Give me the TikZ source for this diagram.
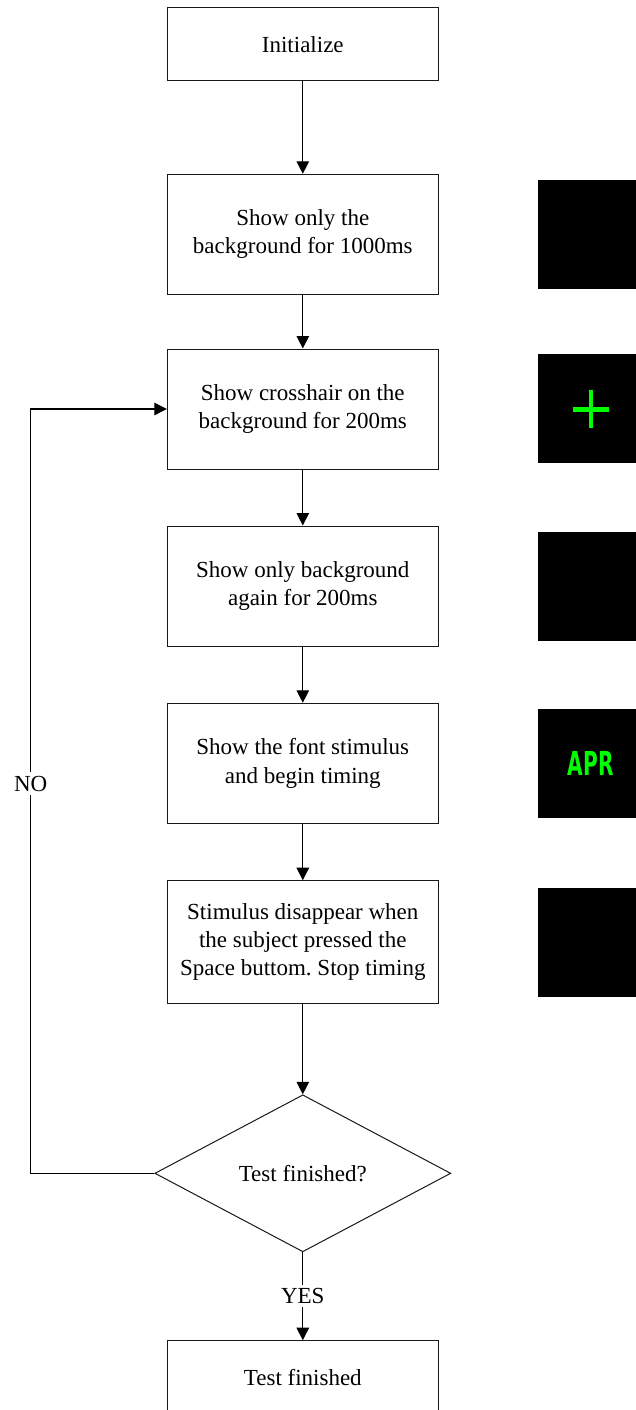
\documentclass[tikz,border=0pt]{standalone}
\usepackage{fontspec}
\setmainfont{Liberation Serif}
\newfontfamily\aprfont{DejaVu Sans}
\usepackage{graphicx}
\usetikzlibrary{shapes.geometric,arrows.meta}
\definecolor{scrgreen}{RGB}{0,255,0}
\frenchspacing
\tikzset{
 stepbox/.style={draw=black!90, line width=1pt, minimum width=271pt, align=center, font=\fontsize{23}{28.3}\selectfont, inner sep=0pt},
 arr/.style={draw=black, line width=1.1pt, -{Triangle[length=12.5pt,width=12.5pt]}},
 screen/.style={fill=black, minimum width=109pt, minimum height=109pt, inner sep=0pt},
 lbl/.style={fill=white, font=\fontsize{23}{28.3}\selectfont, inner sep=0.35em}
}
\begin{document}
\begin{tikzpicture}[x=1pt,y=-1pt]
\useasboundingbox (0,0) rectangle (635,1410);
\node[stepbox, minimum height=73pt] (b1) at (302.8,44.5) {Initialize};
\node[stepbox, minimum height=120pt] (b2) at (302.8,234.3) {Show only the\\background for 1000ms};
\node[stepbox, minimum height=120pt] (b3) at (302.8,409) {Show crosshair on the\\background for 200ms};
\node[stepbox, minimum height=120pt] (b4) at (302.8,586) {Show only background\\again for 200ms};
\node[stepbox, minimum height=120pt] (b5) at (302.8,763.3) {Show the font stimulus\\and begin timing};
\node[stepbox, minimum height=122.6pt] (b6) at (302.8,942) {Stimulus disappear when\\the subject pressed the\\Space buttom. Stop timing};
\node[draw=black!90, line width=1pt, diamond, minimum width=296pt, minimum height=157pt, inner sep=0pt, font=\fontsize{23}{28.3}\selectfont] (dia) at (302.8,1173.3) {Test finished?};
\node[stepbox, minimum height=73pt] (b7) at (302.8,1377.2) {Test finished};

\node[screen] (s1) at (592.2,234.3) {};
\node[screen] (s2) at (592.2,408.8) {};
\node[screen] (s3) at (592.2,586.5) {};
\node[screen] (s4) at (592.2,763.7) {};
\node[screen] (s5) at (592.2,942.2) {};
\fill[scrgreen] (573,407) rectangle (609,411.7);
\fill[scrgreen] (588.65,390) rectangle (593.35,427.7);
\node[text=scrgreen, inner sep=0pt, font=\aprfont\bfseries\fontsize{33}{33}\selectfont] (apr) at (590.7,763.3) {\scalebox{0.61}[1]{APR}};

\draw[arr] (b1.south) -- (b2.north);
\draw[arr] (b2.south) -- (b3.north);
\draw[arr] (b3.south) -- (b4.north);
\draw[arr] (b4.south) -- (b5.north);
\draw[arr] (b5.south) -- (b6.north);
\draw[arr] (b6.south) -- (dia.north);
\draw[arr] (dia.south) -- node[lbl]{YES} (b7.north);
\coordinate (c1) at (30.7,1173.3);
\coordinate (c2) at (30.7,409);
\draw[arr] (dia.west) -- (c1) -- node[lbl, pos=0.51]{NO} (c2) -- (b3.west);
\end{tikzpicture}
\end{document}
